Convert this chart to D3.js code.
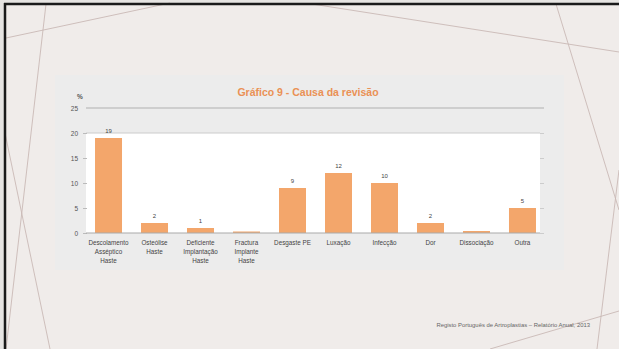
<!DOCTYPE html>
<html>
<head>
<meta charset="utf-8">
<script src="https://cdn.jsdelivr.net/npm/d3@7"></script>
<style>
  html, body { margin: 0; padding: 0; background: #e4e2e0; }
  svg { display: block; font-family: "Liberation Sans", Arial, sans-serif; }
</style>
</head>
<body>
<svg id="chart" width="619" height="349"></svg>
<script>
// Revision causes (%), one bar per category
const categories = [
  "Descolamento|Asséptico|Haste",
  "Osteólise|Haste",
  "Deficiente|Implantação|Haste",
  "Fractura|Implante|Haste",
  "Desgaste PE",
  "Luxação",
  "Infecção",
  "Dor",
  "Dissociação",
  "Outra"
];
const values = [19, 2, 1, 0.3, 9, 12, 10, 2, 0.4, 5];
const valueLabels = ["19", "2", "1", "", "9", "12", "10", "2", "", "5"];
const yTicks = [0, 5, 10, 15, 20, 25];
const titleText = "Gráfico 9 - Causa da revisão";
const sourceText = "Registo Português de Artroplastias – Relatório Anual, 2013";

const svg = d3.select("#chart");
const W = 619, H = 349;

// slide background
svg.append("rect").attr("width", W).attr("height", H).attr("fill", "#e6e4e2");
svg.append("rect").attr("x", 5).attr("y", 4).attr("width", W - 5).attr("height", H - 4).attr("fill", "#f0ecea");

// decorative thin lines across the slide
const deco = [
  [[6, 38], [170, 3]],
  [[46, 4], [6, 349]],
  [[5, 133], [50, 349]],
  [[312, 4], [619, 52]],
  [[556, 4], [619, 210]],
  [[619, 170], [597, 349]],
  [[619, 311], [490, 349]]
];
svg.append("g").selectAll("line").data(deco).join("line")
  .attr("x1", d => d[0][0]).attr("y1", d => d[0][1])
  .attr("x2", d => d[1][0]).attr("y2", d => d[1][1])
  .attr("stroke", "#c9b9b5").attr("stroke-width", 0.9);

// slide frame (left and top edges)
svg.append("line").attr("x1", 5).attr("y1", 3).attr("x2", 5).attr("y2", H).attr("stroke", "#1a1a1a").attr("stroke-width", 2.5);
svg.append("line").attr("x1", 4).attr("y1", 4).attr("x2", W).attr("y2", 4).attr("stroke", "#1a1a1a").attr("stroke-width", 2.5);

// chart panel
svg.append("rect").attr("x", 55).attr("y", 75).attr("width", 509).attr("height", 195).attr("fill", "#ececec");

const x = d3.scaleBand().domain(categories).range([86, 545]).paddingInner(0.413).paddingOuter(0.196);
const y = d3.scaleLinear().domain([0, 25]).range([233, 108]);

// white plot area between 0 and 20
svg.append("rect")
  .attr("x", 86).attr("y", y(20))
  .attr("width", 540 - 86).attr("height", y(0) - y(20))
  .attr("fill", "#ffffff");

// upper gridline at 25 and the border at 20
svg.append("line").attr("x1", 86).attr("x2", 544).attr("y1", y(25)).attr("y2", y(25))
  .attr("stroke", "#c4c4c4").attr("stroke-width", 1.5);
svg.append("line").attr("x1", 86).attr("x2", 540).attr("y1", y(20)).attr("y2", y(20))
  .attr("stroke", "#cccccc").attr("stroke-width", 1);

// left axis
const yAxis = svg.append("g").attr("transform", "translate(87,0)")
  .call(d3.axisLeft(y).tickValues(yTicks).tickSize(4).tickPadding(5));
yAxis.select(".domain").remove();
yAxis.selectAll(".tick line").attr("stroke", "#bbbbbb").filter(d => d === 25).remove();
yAxis.selectAll(".tick text").attr("fill", "#555").attr("font-size", 6.5);

// right-hand ticks
const yAxisR = svg.append("g").attr("transform", "translate(540,0)")
  .call(d3.axisRight(y).tickValues(yTicks.filter(v => v <= 20)).tickSize(4).tickFormat(""));
yAxisR.select(".domain").remove();
yAxisR.selectAll(".tick line").attr("stroke", "#cccccc");

// bars
svg.append("g").selectAll("rect").data(values).join("rect")
  .attr("x", (d, i) => x(categories[i]))
  .attr("y", d => y(d))
  .attr("width", x.bandwidth())
  .attr("height", d => y(0) - y(d))
  .attr("fill", "#f3a66b");

// baseline
svg.append("line").attr("x1", 86).attr("x2", 540).attr("y1", y(0)).attr("y2", y(0))
  .attr("stroke", "#a9a9a9").attr("stroke-width", 1.2);

// value labels
svg.append("g").selectAll("text").data(values).join("text")
  .attr("x", (d, i) => x(categories[i]) + x.bandwidth() / 2)
  .attr("y", d => y(d) - 5)
  .attr("text-anchor", "middle")
  .attr("font-size", 6)
  .attr("fill", "#444")
  .text((d, i) => valueLabels[i]);

// category labels (multi-line)
const catG = svg.append("g").selectAll("text").data(categories).join("text")
  .attr("x", d => x(d) + x.bandwidth() / 2)
  .attr("y", 245)
  .attr("text-anchor", "middle")
  .attr("font-size", 6.3)
  .attr("fill", "#444");
catG.selectAll("tspan").data(d => d.split("|").map(s => ({ s, c: d }))).join("tspan")
  .attr("x", d => x(d.c) + x.bandwidth() / 2)
  .attr("dy", (d, i) => i === 0 ? 0 : 8.8)
  .text(d => d.s);

// unit label
svg.append("text").attr("x", 80).attr("y", 99).attr("text-anchor", "middle")
  .attr("font-size", 6.5).attr("font-weight", "bold").attr("fill", "#555").text("%");

// title
svg.append("text").attr("x", 308).attr("y", 96).attr("text-anchor", "middle")
  .attr("font-size", 10.5).attr("font-weight", "bold").attr("fill", "#ea9155").text(titleText);

// source note
svg.append("text").attr("x", 590).attr("y", 327).attr("text-anchor", "end")
  .attr("font-size", 5.9).attr("fill", "#666").text(sourceText);
</script>
</body>
</html>
